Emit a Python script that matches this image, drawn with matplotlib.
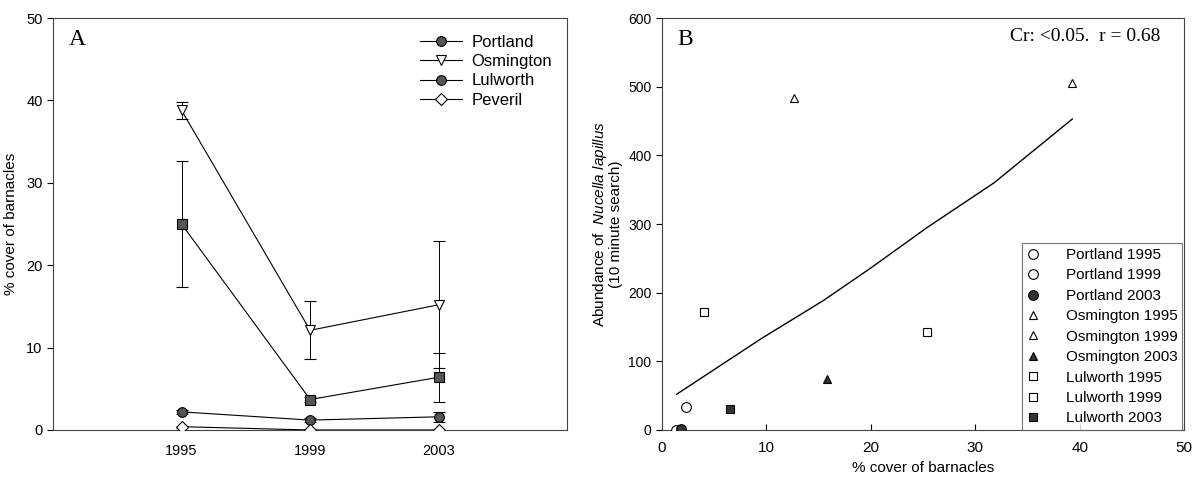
import numpy as np
import matplotlib.pyplot as plt
from matplotlib.lines import Line2D

plt.rcParams['font.family'] = ['Liberation Sans', 'DejaVu Sans']
plt.rcParams['mathtext.fontset'] = 'custom'
plt.rcParams['mathtext.it'] = 'Liberation Sans:italic'
plt.rcParams['mathtext.rm'] = 'Liberation Sans'

# panel A: % cover of barnacles per site and year
years = ["1995", "1999", "2003"]
portland = [2.2, 1.2, 1.6]
portland_err = [0.2, 0.2, 0.6]
osmington = [38.8, 12.1, 15.2]
osmington_err = [1.0, 3.5, 7.7]
lulworth = [25.0, 3.7, 6.4]
lulworth_err = [7.6, 0.3, 3.0]
peveril = [0.4, 0.0, 0.0]
peveril_err = [0.0, 0.0, 0.0]

# panel B: abundance of Nucella vs barnacle cover
pts_label = ["Portland 1995", "Portland 1999", "Portland 2003",
             "Osmington 1995", "Osmington 1999", "Osmington 2003",
             "Lulworth 1995", "Lulworth 1999", "Lulworth 2003"]
pts_x = [2.3, 1.3, 1.8, 39.3, 12.6, 15.8, 25.4, 4.0, 6.5]
pts_y = [34, 0, 2, 506, 483, 74, 143, 172, 31]
pts_marker = ["o", "o", "o", "^", "^", "^", "s", "s", "s"]
pts_filled = [False, False, True, False, False, True, False, False, True]

# fitted curve
fit_x = [1.4, 5.0, 9.5, 15.5, 20.0, 25.4, 31.8, 39.3]
fit_y = [52, 88, 133, 189, 236, 295, 360, 453]

fig = plt.figure(figsize=(11.96, 4.84), dpi=100)
axA = fig.add_axes([0.0443, 0.1116, 0.430, 0.851])
axB = fig.add_axes([0.5535, 0.1116, 0.4365, 0.851])

###############################################################
xpos = np.arange(1, len(years) + 1)
series = [
    ("Portland", portland, portland_err, "o", "#555555"),
    ("Osmington", osmington, osmington_err, "v", "white"),
    ("Lulworth", lulworth, lulworth_err, "s", "#555555"),
    ("Peveril", peveril, peveril_err, "D", "white"),
]
for name, vals, err, mk, fc in series:
    ms = 6 if mk == "D" else 7
    axA.errorbar(xpos, vals, yerr=err, color="black", lw=0.8, elinewidth=0.7,
                 capsize=4, capthick=0.7, marker=mk, ms=ms, mfc=fc, mec="black",
                 mew=0.8, zorder=3)

handles = [Line2D([], [], color="black", lw=0.8, marker=m, ms=(6 if m == "D" else 7),
                  mfc=fc, mec="black", mew=0.8)
           for m, fc in [("o", "#555555"), ("v", "white"), ("o", "#555555"), ("D", "white")]]
axA.legend(handles, [s[0] for s in series], loc="upper right",
           bbox_to_anchor=(1.0, 0.995), frameon=False, fontsize=12,
           handlelength=2.5, handletextpad=0.6, labelspacing=0.25)

axA.set_xlim(0, 4)
axA.set_ylim(0, 50)
axA.set_xticks(xpos)
axA.set_xticklabels(years)
axA.set_yticks([0, 10, 20, 30, 40, 50])
axA.tick_params(axis="x", length=0, pad=10, labelsize=10.5)
axA.tick_params(axis="y", length=4, direction="out", labelsize=10.5)
axA.set_ylabel("% cover of barnacles", fontsize=11, labelpad=6)
axA.text(0.03, 0.935, "A", transform=axA.transAxes, fontsize=17,
         family="Liberation Serif")
for sp in axA.spines.values():
    sp.set_linewidth(0.8)
    sp.set_color("#444444")

###############################################################
axB.plot(fit_x, fit_y, color="black", lw=1.0)
for lab, x, y, mk, filled in zip(pts_label, pts_x, pts_y, pts_marker, pts_filled):
    fc = "#333333" if filled else "white"
    ms = 7 if mk == "o" else 6
    axB.plot([x], [y], ls="none", marker=mk, ms=ms, mfc=fc, mec="black",
             mew=0.8, label=lab, zorder=4)

leg = axB.legend(loc="lower right", bbox_to_anchor=(0.997, 0.0), fontsize=11,
                 frameon=True, fancybox=False, borderaxespad=0,
                 handlelength=0.8, handletextpad=1.8, labelspacing=0.42,
                 borderpad=0.3)
leg.get_frame().set_edgecolor("#555555")
leg.get_frame().set_linewidth(0.8)

axB.set_xlim(0, 50)
axB.set_ylim(0, 600)
axB.set_xticks([0, 10, 20, 30, 40, 50])
axB.set_yticks([0, 100, 200, 300, 400, 500, 600])
axB.tick_params(axis="x", direction="in", length=4, pad=8, labelsize=11)
axB.tick_params(axis="y", direction="out", length=4, labelsize=10)
axB.set_xlabel("% cover of barnacles", fontsize=11, labelpad=4)
axB.set_ylabel("Abundance of  $\\it{Nucella\\ lapillus}$\n(10 minute search)",
               fontsize=11, labelpad=4, linespacing=0.95)
axB.text(0.03, 0.935, "B", transform=axB.transAxes, fontsize=17,
         family="Liberation Serif")
axB.text(0.955, 0.945, "Cr: <0.05.  r = 0.68", transform=axB.transAxes,
         fontsize=14, family="Liberation Serif", ha="right")
for sp in axB.spines.values():
    sp.set_linewidth(0.8)
    sp.set_color("#444444")

plt.savefig("out.png", dpi=100)
